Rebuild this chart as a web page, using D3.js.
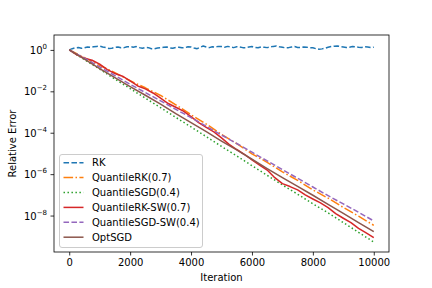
<!DOCTYPE html>
<html>
<head>
<meta charset="utf-8">
<script src="https://cdn.jsdelivr.net/npm/d3@7"></script>
<style>
  body { margin: 0; background: #fff; }
  text { font-family: "DejaVu Sans", sans-serif; }
</style>
</head>
<body>
<div id="chart"></div>
<script>
// values are log10(relative error)
var rkLog = [0, 0.06, 0.10, 0.12, 0.08, 0.10, 0.14, 0.12, 0.15, 0.17,
    0.18, 0.14, 0.11, 0.07, 0.08, 0.12, 0.14, 0.10, 0.11, 0.15,
    0.16, 0.13, 0.16, 0.11, 0.08, 0.12, 0.11, 0.06, 0.06, 0.09,
    0.10, 0.13, 0.14, 0.10, 0.08, 0.12, 0.13, 0.10, 0.11, 0.15,
    0.14, 0.09, 0.06, 0.13, 0.19, 0.14, 0.11, 0.15, 0.14, 0.17,
    0.16, 0.13, 0.17, 0.14, 0.11, 0.15, 0.14, 0.11, 0.11, 0.14,
    0.16, 0.12, 0.10, 0.14, 0.13, 0.11, 0.14, 0.17, 0.19, 0.15,
    0.13, 0.10, 0.11, 0.14, 0.16, 0.12, 0.11, 0.14, 0.13, 0.11,
    0.10, 0.06, 0.03, 0.05, 0.08, 0.13, 0.16, 0.18, 0.19, 0.16,
    0.14, 0.12, 0.13, 0.16, 0.15, 0.13, 0.12, 0.15, 0.14, 0.11, 0.13];
var quantileRKLog = [0, -0.37, -0.75, -1.10, -1.49, -1.83, -2.20, -2.65, -3.13, -3.58, -4.08, -4.53,
    -5.02, -5.43, -5.89, -6.30, -6.76, -7.16, -7.61, -8.03, -8.47];
var quantileSGDLog = [0, -0.47, -0.93, -1.41, -1.87, -2.33, -2.79, -3.26, -3.72, -4.19, -4.66, -5.12,
    -5.59, -6.06, -6.52, -6.97, -7.43, -7.87, -8.34, -8.81, -9.28];
var quantileRKSWLog = [0, -0.24, -0.40, -0.50, -0.69, -0.95, -1.14, -1.27, -1.50, -1.74, -1.88, -2.08,
    -2.33, -2.59, -2.77, -2.96, -3.22, -3.51, -3.74, -3.96, -4.25, -4.56, -4.81, -5.04, -5.31, -5.56,
    -5.80, -6.17, -6.46, -6.60, -6.76, -7.00, -7.20, -7.39, -7.62, -7.91, -8.13, -8.34, -8.62, -8.84, -9.07];
var quantileSGDSWLog = [0, -0.40, -0.82, -1.24, -1.66, -2.06, -2.46, -2.87, -3.27, -3.69, -4.11, -4.52,
    -4.94, -5.36, -5.78, -6.20, -6.62, -7.04, -7.44, -7.84, -8.26];
var optSGDLog = [0, -0.45, -0.90, -1.34, -1.77, -2.19, -2.62, -3.08, -3.51, -3.95, -4.40, -4.83,
    -5.28, -5.73, -6.17, -6.59, -7.02, -7.46, -7.89, -8.34, -8.78];

var xTicks = [0, 2000, 4000, 6000, 8000, 10000];
var yTickExps = [0, -2, -4, -6, -8];

// iteration grids the values were sampled on
function iters(n) { return d3.range(n).map(i => i * 10000 / (n - 1)); }

var series = [
    { name: "RK", vals: rkLog, color: "#1f77b4", dash: "5.55,2.4" },
    { name: "QuantileRK(0.7)", vals: quantileRKLog, color: "#ff7f0e", dash: "9.6,2.4,1.5,2.4" },
    { name: "QuantileSGD(0.4)", vals: quantileSGDLog, color: "#2ca02c", dash: "1.5,2.475" },
    { name: "QuantileRK-SW(0.7)", vals: quantileRKSWLog, color: "#d62728", dash: null },
    { name: "QuantileSGD-SW(0.4)", vals: quantileSGDSWLog, color: "#9467bd", dash: "5.55,2.4" },
    { name: "OptSGD", vals: optSGDLog, color: "#8c564b", dash: null }
];

//Set-up canvas
var svgWidth = 432, svgHeight = 288;
var plotLeft = 54, plotRight = 389, plotTop = 35, plotBottom = 252;

var svg = d3.select("#chart").append("svg")
    .attr("width", svgWidth)
    .attr("height", svgHeight);

var x = d3.scaleLinear().domain([-500, 10500]).range([plotLeft, plotRight]);
var y = d3.scaleLog().domain([Math.pow(10, -9.76), Math.pow(10, 0.72)]).range([plotBottom, plotTop]);

var line = d3.line()
    .x(d => x(d[0]))
    .y(d => y(d[1]));

series.forEach(function(s) {
    var it = iters(s.vals.length);
    var pts = s.vals.map((v, i) => [it[i], Math.pow(10, v)]);
    svg.append("path")
        .datum(pts)
        .attr("d", line)
        .attr("fill", "none")
        .attr("stroke", s.color)
        .attr("stroke-width", 1.5)
        .attr("stroke-dasharray", s.dash)
        .attr("stroke-linejoin", "round");
});

// axes
var xAxis = svg.append("g")
    .attr("transform", `translate(0, ${plotBottom})`)
    .call(d3.axisBottom(x).tickValues(xTicks).tickSize(3.5).tickPadding(3.5).tickFormat(d3.format("d")));

var yAxis = svg.append("g")
    .attr("transform", `translate(${plotLeft}, 0)`)
    .call(d3.axisLeft(y).tickValues(yTickExps.map(e => Math.pow(10, e))).tickSize(3.5).tickPadding(3.5).tickFormat(""));

[xAxis, yAxis].forEach(function(a) {
    a.select(".domain").remove();
    a.selectAll("line").attr("stroke", "#000").attr("stroke-width", 0.8);
    a.selectAll("text").attr("font-size", 10).attr("fill", "#000").style("font-family", "DejaVu Sans");
});

// y tick labels as 10^n
yAxis.selectAll(".tick").each(function(d) {
    var e = Math.round(Math.log10(d));
    var t = d3.select(this).append("text")
        .attr("x", -7)
        .attr("y", 3.5)
        .attr("text-anchor", "end")
        .attr("font-size", 10)
        .attr("fill", "#000");
    t.append("tspan").text("10");
    t.append("tspan")
        .attr("dy", -5)
        .attr("font-size", 7)
        .text(e < 0 ? "\u2212" + (-e) : String(e));
});

// frame
svg.append("rect")
    .attr("x", plotLeft)
    .attr("y", plotTop)
    .attr("width", plotRight - plotLeft)
    .attr("height", plotBottom - plotTop)
    .attr("fill", "none")
    .attr("stroke", "#000")
    .attr("stroke-width", 0.8);

// axis labels
svg.append("text")
    .attr("x", (plotLeft + plotRight) / 2)
    .attr("y", 281)
    .attr("text-anchor", "middle")
    .attr("font-size", 10)
    .text("Iteration");

svg.append("text")
    .attr("transform", `translate(16, ${(plotTop + plotBottom) / 2}) rotate(-90)`)
    .attr("text-anchor", "middle")
    .attr("font-size", 10)
    .text("Relative Error");

// legend
var legend = svg.append("g");
legend.append("rect")
    .attr("x", 59.5)
    .attr("y", 154.5)
    .attr("width", 143)
    .attr("height", 93)
    .attr("rx", 2.5)
    .attr("fill", "#fff")
    .attr("fill-opacity", 0.8)
    .attr("stroke", "#ccc")
    .attr("stroke-width", 1);

series.forEach(function(s, i) {
    var cy = 162.7 + i * 14.9;
    legend.append("line")
        .attr("x1", 63.5).attr("x2", 83.5)
        .attr("y1", cy).attr("y2", cy)
        .attr("stroke", s.color)
        .attr("stroke-width", 1.5)
        .attr("stroke-dasharray", s.dash);
    legend.append("text")
        .attr("x", 92)
        .attr("y", cy + 3.6)
        .attr("font-size", 10)
        .text(s.name);
});
</script>
</body>
</html>
